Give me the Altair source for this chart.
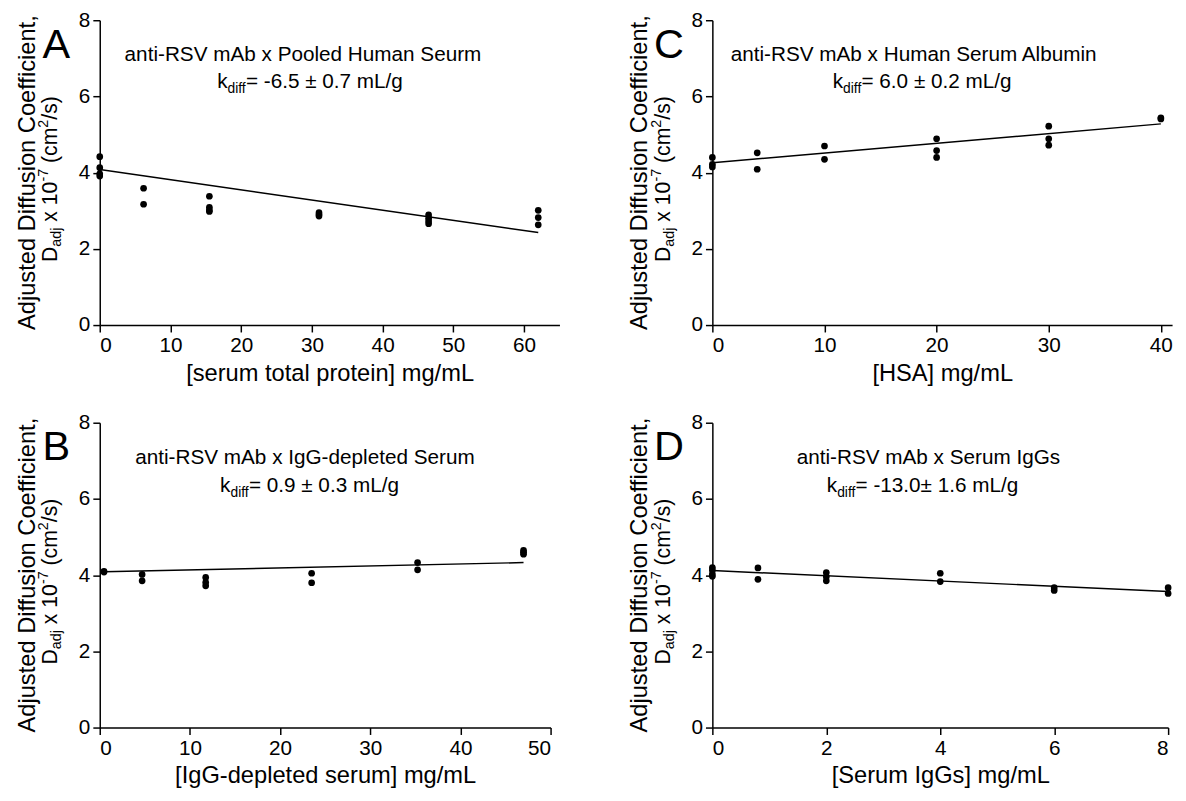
import altair as alt
import pandas as pd

FONT = "Liberation Sans"

# ---------------- data ----------------
# Panel A: pooled human serum
A_x = [0, 0, 0, 0, 6.2, 6.2, 15.5, 15.5, 15.5, 15.5, 31, 31, 31,
       46.5, 46.5, 46.5, 46.5, 62, 62, 62]
A_y = [4.42, 4.13, 3.97, 3.91, 3.59, 3.17, 3.38, 3.09, 3.02, 2.98, 2.95, 2.90, 2.86,
       2.89, 2.80, 2.73, 2.66, 3.01, 2.82, 2.63]
A_fit_x = [0, 62]
A_fit_y = [4.08, 2.43]

# Panel B: IgG-depleted serum
B_x = [0.47, 0.47, 4.7, 4.7, 11.75, 11.75, 11.75, 23.5, 23.5, 35.25, 35.25, 47, 47, 47]
B_y = [4.10, 4.08, 4.02, 3.85, 3.94, 3.81, 3.72, 4.05, 3.80, 4.33, 4.14, 4.65, 4.60, 4.55]
B_fit_x = [0.47, 47]
B_fit_y = [4.09, 4.33]

# Panel C: human serum albumin
C_x = [0, 0, 0, 4, 4, 10, 10, 20, 20, 20, 30, 30, 30, 40, 40]
C_y = [4.40, 4.22, 4.15, 4.52, 4.09, 4.70, 4.35, 4.89, 4.58, 4.40, 5.22, 4.89, 4.72, 5.44, 5.41]
C_fit_x = [0, 40]
C_fit_y = [4.26, 5.28]

# Panel D: serum IgGs
D_x = [0, 0, 0, 0, 0.8, 0.8, 2, 2, 2, 4, 4, 6, 6, 8, 8]
D_y = [4.20, 4.13, 4.03, 3.97, 4.19, 3.89, 4.07, 3.96, 3.85, 4.05, 3.83, 3.67, 3.60, 3.67, 3.52]
D_fit_x = [0, 8]
D_fit_y = [4.12, 3.57]

titles = ["anti-RSV mAb x Pooled Human Seurm", "anti-RSV mAb x IgG-depleted Serum",
          "anti-RSV mAb x Human Serum Albumin", "anti-RSV mAb x Serum IgGs"]
kvals = ["= -6.5 \u00b1 0.7 mL/g", "= 0.9 \u00b1 0.3 mL/g",
         "= 6.0 \u00b1 0.2 mL/g", "= -13.0\u00b1 1.6 mL/g"]
letters = ["A", "B", "C", "D"]
xtitles = ["[serum total protein] mg/mL", "[IgG-depleted serum] mg/mL",
           "[HSA] mg/mL", "[Serum IgGs] mg/mL"]
xdomains = [[0, 65], [0, 50], [0, 41], [0, 8]]
xticks = [[0, 10, 20, 30, 40, 50, 60], [0, 10, 20, 30, 40, 50],
          [0, 10, 20, 30, 40], [0, 2, 4, 6, 8]]
ytick_vals = [0, 2, 4, 6, 8]

# ---------------- styling / layout ----------------
ARIAL = {' ': 278, '=': 584, '-': 333, '.': 278, '\u00b1': 584, 'm': 833, 'L': 556,
         '/': 278, 'g': 556, 'k': 500, 'd': 556, 'i': 222, 'f': 278, 'a': 556,
         'j': 222, 'x': 500, '(': 333, ')': 333, 'c': 500, 's': 500, 'D': 722}


def tw(s, size):
    return sum(ARIAL.get(ch, 556) for ch in s) * size / 1000.0


ONE = alt.Data(values=[{"a": 1}])
H = 309
TITLE_FS = 21
SUB_FS = 14
YT1_FS = 24
YT2_FS = 21.5
YSUB_FS = 14.5


def txt(x, y, s, fs, align="left", angle=0):
    kw = dict(align=align, baseline="alphabetic", font=FONT, fontSize=fs, color="black")
    if angle:
        kw["angle"] = angle
    return alt.Chart(ONE).mark_text(**kw).encode(
        x=alt.value(x), y=alt.value(y), text=alt.value(s))


def panel(i, xs, ys, fx, fy, width, t1x, kx, ty):
    df = pd.DataFrame({"x": xs, "y": ys})
    fit = pd.DataFrame({"x": fx, "y": fy})
    xsc = alt.Scale(domain=xdomains[i], nice=False, zero=False)
    ysc = alt.Scale(domain=[0, 8], nice=False)
    xax = alt.Axis(title=xtitles[i], values=xticks[i], titleFontSize=24,
                   titleFontWeight="normal", titlePadding=6, labelFontSize=21,
                   labelPadding=3, format="d")
    yax = alt.Axis(title=None, values=ytick_vals, labelFontSize=21, labelPadding=3)
    pts = alt.Chart(df).mark_circle(size=46, color="black", opacity=1).encode(
        x=alt.X("x:Q", scale=xsc, axis=xax), y=alt.Y("y:Q", scale=ysc, axis=yax))
    line = alt.Chart(fit).mark_line(color="black", strokeWidth=1.5).encode(
        x=alt.X("x:Q", scale=xsc), y=alt.Y("y:Q", scale=ysc))
    layers = [pts, line]
    # in-plot title, two lines
    layers.append(txt(t1x, ty, titles[i], TITLE_FS, align="center"))
    kw_ = tw("k", TITLE_FS)
    dw = tw("diff", SUB_FS)
    layers.append(txt(kx, ty + 28, "k", TITLE_FS))
    layers.append(txt(kx + kw_, ty + 33, "diff", SUB_FS))
    layers.append(txt(kx + kw_ + dw, ty + 28, kvals[i], TITLE_FS))
    # panel letter
    layers.append(txt(-44, 38, letters[i], 42, align="center"))
    # y axis title, line 1
    layers.append(txt(-66, H / 2, "Adjusted Diffusion Coefficient,", YT1_FS,
                      align="center", angle=270))
    # y axis title, line 2 with sub/superscripts (spaces advance only)
    pieces = [("D", YT2_FS, 0), ("adj", YSUB_FS, 4), (" ", YT2_FS, 0), ("x", YT2_FS, 0),
              (" ", YT2_FS, 0), ("10", YT2_FS, 0), ("-7", YSUB_FS, -9),
              (" ", YT2_FS, 0), ("(cm", YT2_FS, 0), ("2", YSUB_FS, -9),
              ("/s)", YT2_FS, 0)]
    total = sum(tw(s, f) for s, f, _ in pieces)
    y0 = 161 + total / 2
    for s, f, off in pieces:
        if s.strip():
            layers.append(txt(-43 + off, y0, s, f, angle=270))
        y0 -= tw(s, f)
    return alt.layer(*layers).properties(width=width, height=H)


pA = panel(0, A_x, A_y, A_fit_x, A_fit_y, 466, 206, 119, 41)
pB = panel(1, B_x, B_y, B_fit_x, B_fit_y, 457, 208, 122, 42)
pC = panel(2, C_x, C_y, C_fit_x, C_fit_y, 466, 204, 122, 41)
pD = panel(3, D_x, D_y, D_fit_x, D_fit_y, 462, 219, 116, 42)

chart = alt.concat(pA, pC, pB, pD, columns=2, spacing={"row": 27, "column": 69}).configure_view(
    stroke=None
).configure_axis(
    domainColor="black", domainWidth=1.5, tickColor="black", tickWidth=1.5,
    tickSize=7, labelColor="black", titleColor="black", labelFont=FONT,
    titleFont=FONT, grid=False
).properties(background="white", padding={"left": 7, "top": -4, "right": 5, "bottom": 5})

chart.save("out.html", embed_options={"renderer": "svg", "actions": False})
